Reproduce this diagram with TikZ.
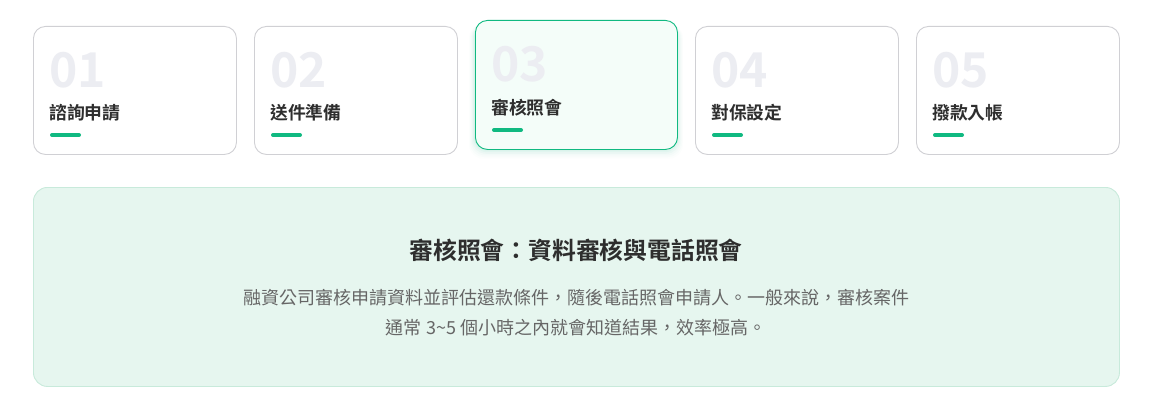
\documentclass[tikz,border=0pt]{standalone}
\usepackage{fontspec}
\setmainfont{Noto Sans CJK TC}[BoldFont={* Bold}]
\definecolor{cardborder}{HTML}{D0D0D4}
\definecolor{numgray}{HTML}{ECEDF2}
\definecolor{titledark}{HTML}{2E2E2E}
\definecolor{accent}{HTML}{10B981}
\definecolor{activefill}{HTML}{F4FDF9}
\definecolor{panelfill}{HTML}{E6F6EF}
\definecolor{panelborder}{HTML}{C8EADB}
\definecolor{bodygray}{HTML}{666666}
\begin{document}
\begin{tikzpicture}[x=1pt,y=-1pt,
  cardbox/.style={draw=cardborder,line width=0.9pt,fill=white,rounded corners=12pt},
  activebox/.style={draw=accent,line width=0.9pt,fill=activefill,rounded corners=12pt},
  numtxt/.style={anchor=base west,inner sep=0pt,text=numgray,font=\fontsize{48}{48}\selectfont\bfseries},
  titletxt/.style={anchor=base west,inner sep=0pt,text=titledark,font=\fontsize{17.8}{20}\selectfont\bfseries},
  bar/.style={draw=accent,line width=4pt,line cap=round}]
\useasboundingbox (0,0) rectangle (1150,417);
\fill[white] (0,0) rectangle (1150,417);
% shadow for active card
\foreach \i/\o in {1/0.05,2/0.04,3/0.03,4/0.02,5/0.015,6/0.01}{
  \fill[accent,opacity=\o,rounded corners=14pt] (475-\i,24) rectangle (677+\i,149+1.6*\i);
}
% cards
\foreach \n/\x/\t in {1/33/諮詢申請,2/254/送件準備,4/695/對保設定,5/916/撥款入帳}{
  \node[cardbox,minimum width=203pt,minimum height=128pt,anchor=north west,inner sep=0pt] (card\n) at (\x,26) {};
  \node[numtxt] (num\n) at (\x+16,88) {0\n};
  \node[titletxt] (title\n) at (\x+16,120) {\t};
  \coordinate (bs\n) at (\x+19,135);
  \coordinate (be\n) at (\x+46,135);
  \draw[bar] (bs\n) -- (be\n);
}
\node[activebox,minimum width=202pt,minimum height=129pt,anchor=north west,inner sep=0pt] (card3) at (475,20) {};
\node[numtxt] (num3) at (491,82) {03};
\node[titletxt] (title3) at (491,114) {審核照會};
\coordinate (bs3) at (494,130);
\coordinate (be3) at (521,130);
\draw[bar] (bs3) -- (be3);
% panel
\node[draw=panelborder,line width=0.9pt,fill=panelfill,rounded corners=14pt,minimum width=1086pt,minimum height=199pt,anchor=north west,inner sep=0pt] (panel) at (33,187) {};
\node[anchor=base,inner sep=0pt,text=titledark,font=\fontsize{23.8}{28}\selectfont\bfseries] (head) at (576,259) {審核照會：資料審核與電話照會};
\node[anchor=base,inner sep=0pt,text=bodygray,font=\fontsize{18}{22}\selectfont] (body1) at (576,304) {融資公司審核申請資料並評估還款條件，隨後電話照會申請人。一般來說，審核案件};
\node[anchor=base,inner sep=0pt,text=bodygray,font=\fontsize{18}{22}\selectfont] (body2) at (576,334) {通常 3\textasciitilde 5 個小時之內就會知道結果，效率極高。};
\end{tikzpicture}
\end{document}
